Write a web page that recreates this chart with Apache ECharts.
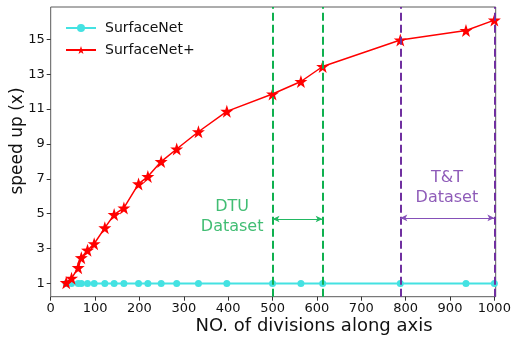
<!DOCTYPE html>
<html>
<head>
<meta charset="utf-8">
<script src="https://cdn.jsdelivr.net/npm/echarts@6/dist/echarts.min.js"></script>
<style>
  html, body { margin: 0; padding: 0; background: #fff; }
  #chart { width: 518px; height: 339px; }
</style>
</head>
<body>
<div id="chart"></div>
<script>
// Number of divisions along each axis
const divisions = [35, 47, 62, 69, 83, 98, 122, 143, 165, 198, 219, 249, 284, 333, 397, 500, 564, 613, 788, 936, 1000];
// Speed-up factors
const surfaceNet = [1, 1, 1, 1, 1, 1, 1, 1, 1, 1, 1, 1, 1, 1, 1, 1, 1, 1, 1, 1, 1];
const surfaceNetPlus = [1.05, 1.3, 1.91, 2.48, 2.91, 3.28, 4.19, 4.95, 5.33, 6.71, 7.13, 7.99, 8.71, 9.70, 10.87, 11.86, 12.58, 13.44, 14.96, 15.50, 16.10];

// Dataset resolution ranges
const dtuRange = [500, 613];
const ttRange = [788, 1000];
const arrowLevel = [4.70, 4.76];
const annotations = [
  { text: 'DTU\nDataset', x: 409, y: 4.84 },
  { text: 'T&T\nDataset', x: 893, y: 6.46 }
];

const xTicks = [0, 100, 200, 300, 400, 500, 600, 700, 800, 900, 1000];
const yTicks = [1, 3, 5, 7, 9, 11, 13, 15];

const FONT = 'DejaVu Sans';
const GREEN = '#0fb04f';
const PURPLE = '#7030a0';
const STAR = 'path://M50,0 L61.8,35.1 L98.9,35.5 L69.1,57.7 L80.2,93.1 L50,71.6 L19.8,93.1 L30.9,57.7 L1.1,35.5 L38.2,35.1 Z';

const zip = (xs, ys) => xs.map((x, i) => [x, ys[i]]);

const chart = echarts.init(document.getElementById('chart'), null, { renderer: 'canvas' });

chart.setOption({
  animation: false,
  backgroundColor: '#fff',
  textStyle: { fontFamily: FONT },
  grid: {
    left: 50.7, top: 7, right: 22.3, bottom: 42.3,
    show: true, borderColor: '#5a5a5a', borderWidth: 1, backgroundColor: 'transparent'
  },
  legend: {
    left: 60, top: 16, orient: 'vertical',
    itemWidth: 30, itemHeight: 10, itemGap: 8,
    textStyle: { fontFamily: FONT, fontSize: 14, color: '#111', padding: [0, 0, 0, 4] },
    data: ['SurfaceNet', 'SurfaceNet+']
  },
  xAxis: {
    type: 'value', min: 0, max: 1003,
    axisLine: { show: false },
    splitLine: { show: false },
    axisTick: { show: true, inside: false, length: 4, lineStyle: { color: '#333' }, customValues: xTicks },
    axisLabel: { fontFamily: FONT, fontSize: 13, color: '#111', margin: 5, customValues: xTicks, formatter: v => String(v) }
  },
  yAxis: {
    type: 'value', min: 0.245, max: 16.85,
    axisLine: { show: false },
    splitLine: { show: false },
    axisTick: { show: true, inside: false, length: 4, lineStyle: { color: '#333' }, customValues: yTicks },
    axisLabel: { fontFamily: FONT, fontSize: 13, color: '#111', margin: 6, customValues: yTicks, formatter: v => String(v) }
  },
  graphic: [
    {
      type: 'text', x: 314, y: 326,
      style: { text: 'NO. of divisions along axis', font: '18px "DejaVu Sans"', fill: '#111', align: 'center', verticalAlign: 'middle' }
    },
    {
      type: 'text', x: 18, y: 141, rotation: Math.PI / 2,
      style: { text: 'speed up (x)', font: '17px "DejaVu Sans"', fill: '#111', align: 'center', verticalAlign: 'middle' }
    }
  ],
  series: [
    {
      name: 'SurfaceNet', type: 'line', z: 3,
      data: zip(divisions, surfaceNet),
      symbol: 'circle', symbolSize: 7,
      lineStyle: { color: '#44e2e2', width: 2 },
      itemStyle: { color: '#44e2e2' },
      markLine: {
        silent: true, symbol: 'none', label: { show: false },
        lineStyle: { type: [8, 4], width: 2 },
        data: [
          { xAxis: dtuRange[0], lineStyle: { color: GREEN, type: [8, 4], width: 2 } },
          { xAxis: dtuRange[1], lineStyle: { color: GREEN, type: [8, 4], width: 2 } },
          { xAxis: ttRange[0], lineStyle: { color: PURPLE, type: [8, 4], width: 2 } },
          { xAxis: ttRange[1], lineStyle: { color: PURPLE, type: [8, 4], width: 2 } }
        ]
      }
    },
    {
      name: 'SurfaceNet+', type: 'line', z: 4,
      data: zip(divisions, surfaceNetPlus),
      symbol: STAR, symbolSize: 13,
      lineStyle: { color: '#ff0000', width: 1.5 },
      itemStyle: { color: '#ff0000' },
      markLine: {
        silent: true, symbol: ['arrow', 'arrow'], symbolSize: [5, 7],
        label: { show: false },
        data: [
          [
            { coord: [dtuRange[0], arrowLevel[0]], lineStyle: { color: '#22b862', type: 'solid', width: 1.2 }, itemStyle: { color: '#22b862' } },
            { coord: [dtuRange[1], arrowLevel[0]] }
          ],
          [
            { coord: [ttRange[0], arrowLevel[1]], lineStyle: { color: '#8550b8', type: 'solid', width: 1.2 }, itemStyle: { color: '#8550b8' } },
            { coord: [ttRange[1], arrowLevel[1]] }
          ]
        ]
      }
    },
    {
      name: 'annotations', type: 'scatter', silent: true,
      symbolSize: 0,
      data: annotations.map((a, i) => ({
        value: [a.x, a.y],
        label: {
          show: true, position: 'inside', formatter: a.text,
          fontFamily: FONT, fontSize: 16, lineHeight: 20,
          color: i === 0 ? '#12ad50' : '#7232a6', align: 'center', verticalAlign: 'middle'
        }
      }))
    }
  ]
});
</script>
</body>
</html>
